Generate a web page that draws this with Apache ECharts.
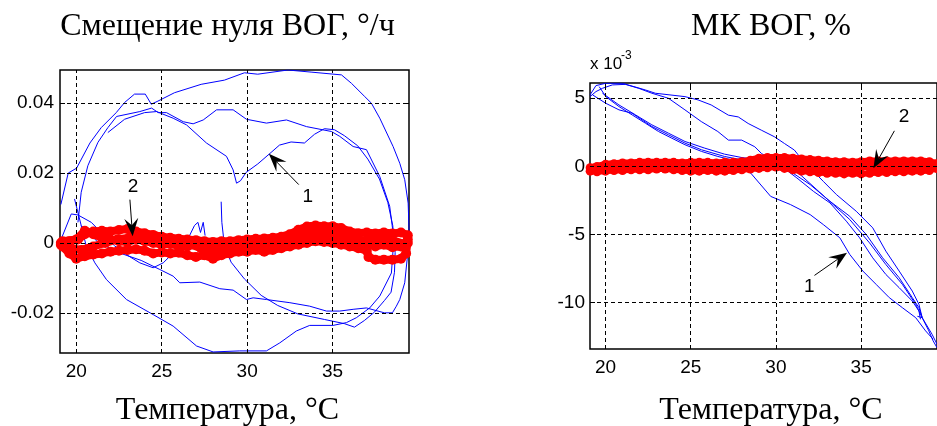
<!DOCTYPE html>
<html><head><meta charset="utf-8">
<script src="https://cdn.jsdelivr.net/npm/echarts@6/dist/echarts.min.js"></script>
<style>html,body{margin:0;padding:0;background:#fff}#c{width:937px;height:426px}</style>
</head><body><div id="c"></div>
<script>
// ---------- tick values ----------
const tempTicks = [20, 25, 30, 35];
const biasTicks = [-0.02, 0, 0.02, 0.04];
const scaleTicks = [-10, -5, 0, 5];

// ---------- left plot: bias (deg/h) vs temperature, uncompensated (blue) ----------
const biasCurveA = [[19.10,0.0110],[19.53,0.0200],[20.02,0.0214],[20.80,0.0286],[21.46,0.0330],[22.34,0.0373],[22.83,0.0402],[23.41,0.0426],[24.04,0.0426],[24.39,0.0397],[24.78,0.0406],[25.75,0.0430],[27.31,0.0454],[28.67,0.0466],[29.84,0.0487],[30.62,0.0483],[32.38,0.0495],[33.74,0.0489],[35.52,0.0481],[36.10,0.0457],[36.88,0.0419],[37.27,0.0400],[37.76,0.0357],[38.54,0.0276],[38.93,0.0228],[39.22,0.0181],[39.42,0.0114],[39.48,0.0029],[39.42,-0.0019],[39.22,-0.0114],[38.93,-0.0162],[38.73,-0.0181],[38.50,-0.0200],[38.03,-0.0200],[36.98,-0.0186],[36.20,-0.0190],[35.42,-0.0195],[34.64,-0.0195],[33.66,-0.0181],[32.50,-0.0171],[31.13,-0.0162],[30.35,-0.0157],[29.96,-0.0162],[29.18,-0.0135],[28.40,-0.0131],[27.23,-0.0112],[26.06,-0.0114],[25.67,-0.0095],[24.89,-0.0076],[23.80,-0.0050],[22.44,-0.0027],[21.27,0.0002],[20.29,0.0050],[19.90,0.0126]];
const biasCurveB = [[20.10,0.0059],[20.29,0.0145],[20.68,0.0221],[21.27,0.0288],[21.85,0.0330],[22.36,0.0362],[23.72,0.0376],[24.41,0.0386],[24.80,0.0373],[25.28,0.0373],[26.26,0.0347],[26.84,0.0341],[27.43,0.0352],[28.21,0.0381],[29.18,0.0381],[29.96,0.0354],[31.13,0.0343],[32.30,0.0352],[33.47,0.0333],[34.93,0.0319],[35.42,0.0305],[36.20,0.0276],[36.98,0.0267],[37.76,0.0190],[38.34,0.0105],[38.54,0.0029],[38.54,-0.0019],[38.44,-0.0086],[37.76,-0.0152],[37.17,-0.0186],[36.39,-0.0214],[35.81,-0.0228],[35.03,-0.0236],[33.66,-0.0236],[32.88,-0.0252],[31.91,-0.0286],[31.13,-0.0309],[29.57,-0.0309],[28.01,-0.0312],[27.04,-0.0295],[25.67,-0.0238],[24.50,-0.0205],[22.94,-0.0162],[21.77,-0.0105],[21.09,-0.0057],[20.58,-0.0008],[20.29,0.0050]];
const biasCurveC = [[21.85,0.0316],[22.83,0.0354],[24.00,0.0373],[24.70,0.0376],[25.67,0.0357],[26.45,0.0338],[27.62,0.0286],[28.79,0.0248],[29.18,0.0209],[29.38,0.0171],[29.61,0.0178],[29.94,0.0202],[30.62,0.0226],[31.40,0.0259],[31.89,0.0280],[32.57,0.0289],[33.35,0.0286],[33.94,0.0311],[34.52,0.0327],[35.11,0.0324],[35.69,0.0307],[36.47,0.0278],[37.06,0.0240],[37.74,0.0183],[38.23,0.0116],[38.52,0.0050],[38.66,-0.0027],[38.62,-0.0084],[38.42,-0.0141],[38.03,-0.0165],[37.45,-0.0198],[36.86,-0.0222],[36.28,-0.0241],[35.69,-0.0231],[34.52,-0.0219],[32.96,-0.0203],[31.79,-0.0179],[30.82,-0.0150],[29.84,-0.0103],[29.06,-0.0055],[28.67,-0.0008],[28.52,0.0059],[28.48,0.0118]];
const biasCurveD = [[19.12,0.0011],[19.71,0.0083],[20.10,0.0080],[20.88,0.0059],[21.46,0.0030],[22.24,-0.0008],[23.02,-0.0036],[23.72,-0.0057],[24.50,-0.0071],[25.09,-0.0057],[25.67,-0.0029],[26.06,0.0000],[26.63,0.0021],[26.92,0.0050],[27.12,0.0059],[27.27,0.0030],[27.43,0.0059],[27.54,0.0021]];

// ---------- left plot: compensated (red) ----------
const biasCompR1 = [[19.1,0],[19.6,0.0005],[20.1,0.001],[20.5,0.0025],[21.0,0.0033],[21.5,0.0035],[22.0,0.0033],[22.5,0.0037],[23.0,0.004],[23.5,0.0033],[24.0,0.0028],[24.5,0.0023],[25.0,0.0018],[25.5,0.0015],[26.0,0.0012],[26.5,0.001],[27.0,0.0008],[27.5,0.0005],[28.0,0.0003],[28.5,0.0005],[29.0,0.0005],[29.5,0.0008],[30.0,0.001],[30.5,0.0012],[31.0,0.0013],[31.5,0.0015],[32.0,0.0018],[32.5,0.0025],[33.0,0.0038],[33.5,0.0047],[34.0,0.005],[34.5,0.0048],[35.0,0.0048],[35.5,0.0043],[36.0,0.0033],[36.5,0.0028],[37.0,0.003],[37.5,0.0027],[38.0,0.003],[38.5,0.0027],[39.0,0.003],[39.4,0.0022]];
const biasCompR2 = [[39.4,0.001],[39.3,-0.003],[39.0,-0.0045],[38.5,-0.0048],[38.0,-0.0048],[37.5,-0.0048],[37.1,-0.004],[37.0,-0.0022],[36.5,-0.0015],[36.0,-0.001],[35.5,-0.0005],[35.0,0],[34.5,0.0003],[34.0,0.0005],[33.5,0],[33.0,-0.0005],[32.5,-0.001],[32.0,-0.0015],[31.5,-0.002],[31.0,-0.0025],[30.5,-0.002],[30.0,-0.0025],[29.5,-0.0025],[29.0,-0.003],[28.5,-0.0035],[28.0,-0.0045],[27.5,-0.0035],[27.0,-0.004],[26.5,-0.0035],[26.0,-0.0028],[25.5,-0.003],[25.0,-0.0027],[24.5,-0.003],[24.0,-0.0022],[23.5,-0.0018],[23.0,-0.002],[22.5,-0.0022],[22.0,-0.0025],[21.5,-0.003],[21.0,-0.0033],[20.5,-0.0038],[20.0,-0.0045],[19.6,-0.003],[19.2,-0.001]];
const biasCompR3 = [[19.2,0.0005],[20.0,0.001],[20.5,0.0035],[21.0,0.0025],[21.5,0.0015],[22.0,0.001],[22.5,0.0005],[23.0,0.0003],[23.5,0.001],[24.0,0.0005],[24.5,0],[25.0,-0.0005],[25.5,-0.0003],[26.0,-0.0008],[26.5,-0.001],[27.0,-0.0005],[27.5,-0.001],[28.0,-0.0008],[28.5,-0.0012],[29.0,-0.0008],[29.5,-0.0005],[30.0,-0.0003],[30.5,0],[31.0,-0.0005],[31.5,0],[32.0,0.0005],[32.5,0.001],[33.0,0.0015],[33.5,0.0025],[34.0,0.003],[34.5,0.0035],[35.0,0.003],[35.5,0.0025],[36.0,0.0015],[36.5,0.001],[37.0,0],[37.5,-0.001],[38.0,-0.0005],[38.5,-0.0012],[39.0,-0.001],[39.4,0]];
const biasCompR4 = [[19.1,-0.0005],[19.7,-0.0015],[20.3,-0.002],[21.0,-0.001],[21.7,0.0],[22.4,0.001],[23.1,0.0015],[23.8,0.0015],[24.5,0.001],[25.2,0.0008],[25.9,0.0002],[26.6,-0.0002],[27.3,-0.0015],[28.0,-0.002],[28.7,-0.0015],[29.4,-0.0012],[30.1,-0.001],[30.8,-0.0008],[31.5,-0.0008],[32.2,-0.0003],[32.9,0.0008],[33.6,0.0015],[34.3,0.0012],[35.0,0.0015],[35.7,0.0012],[36.4,0.0005],[37.1,0.001],[37.8,0.0012],[38.5,0.0008],[39.2,-0.0003]];

// ---------- right plot: scale factor error (x1e-3) vs temperature ----------
const scaleCurveA = [[19.09,5.24],[19.44,5.93],[20.02,6.10],[20.98,6.10],[22.34,5.61],[22.92,5.37],[24.66,5.12],[25.43,4.88],[26.20,4.51],[27.21,3.76],[27.79,3.63],[28.37,3.15],[29.14,2.66],[29.92,2.17],[30.50,1.68],[31.08,1.20],[31.47,0.59],[32.01,-0.12],[32.78,-1.10],[33.55,-2.07],[34.71,-3.29],[35.68,-4.51],[36.45,-6.22],[37.23,-7.68],[38.00,-9.15],[38.39,-10.12],[38.58,-11.10],[38.97,-12.07],[39.22,-12.80],[39.45,-13.30]];
const scaleCurveB = [[19.09,5.12],[19.44,5.49],[19.82,5.73],[20.40,5.98],[21.17,6.02],[21.95,5.73],[22.72,5.37],[23.69,5.00],[24.66,4.15],[25.62,3.29],[26.59,2.56],[27.21,1.93],[27.99,1.93],[28.76,1.44],[29.15,0.95],[29.69,0.49],[30.46,-0.12],[31.23,-0.85],[32.20,-1.83],[33.17,-2.68],[34.13,-4.02],[34.91,-5.24],[35.68,-6.71],[36.45,-7.93],[37.23,-8.90],[38.00,-9.88],[38.39,-10.61],[38.48,-11.22]];
const scaleCurveC = [[19.63,5.85],[20.02,5.12],[20.79,4.39],[21.56,3.78],[22.34,3.17],[23.11,2.56],[23.89,2.07],[24.66,1.59],[25.63,1.10],[26.59,0.73],[27.75,0.37],[28.52,-0.49],[29.69,-2.20],[30.85,-2.80],[32.01,-3.54],[32.78,-4.27],[33.75,-5.24],[34.33,-6.46],[35.10,-7.68],[35.88,-8.66],[36.65,-9.63],[37.42,-10.37],[38.20,-11.10],[38.78,-12.07],[39.22,-12.68]];
const scaleCurveD = [[19.25,5.24],[20.02,4.63],[20.79,4.15],[21.56,3.90],[22.72,2.93],[23.69,2.32],[24.66,1.71],[25.63,1.22],[26.98,0.73],[27.95,0.49],[28.91,0.24],[29.88,0.07],[30.85,-0.37],[32.01,-1.34],[33.17,-2.56],[34.33,-3.66],[35.30,-5.00],[36.26,-6.71],[37.23,-8.17],[38.00,-9.63],[38.39,-10.37],[38.58,-11.10],[38.30,-11.00]];
const scaleCurveE = [[19.82,5.37],[20.79,4.51],[21.76,3.78],[22.72,3.05],[23.69,2.44],[24.66,1.83],[25.82,1.34],[26.98,0.90],[27.95,0.66],[29.30,0.41],[30.46,0.17],[31.43,-0.61],[32.40,-1.71],[33.36,-2.80],[34.33,-3.90],[35.49,-5.61],[36.45,-7.20],[37.42,-8.66],[38.20,-10.12],[38.58,-11.10],[39.16,-12.32],[39.45,-13.05]];
const scaleCompR1 = [[19.1,-0.1],[19.5,0.0],[20.0,0.15],[20.5,0.2],[21.0,0.25],[21.5,0.25],[22.0,0.3],[22.5,0.3],[23.0,0.3],[23.5,0.3],[24.0,0.3],[24.5,0.25],[25.0,0.3],[25.5,0.3],[26.0,0.3],[26.5,0.25],[27.0,0.3],[27.5,0.3],[28.0,0.35],[28.5,0.45],[29.0,0.6],[29.5,0.65],[30.0,0.65],[30.5,0.65],[31.0,0.6],[31.5,0.55],[32.0,0.5],[32.5,0.45],[33.0,0.4],[33.5,0.35],[34.0,0.35],[34.5,0.3],[35.0,0.35],[35.5,0.4],[36.0,0.4],[36.5,0.4],[37.0,0.4],[37.5,0.4],[38.0,0.4],[38.5,0.4],[39.0,0.35],[39.4,0.2]];
const scaleCompR2 = [[19.1,-0.35],[19.5,-0.4],[20.0,-0.35],[20.5,-0.3],[21.0,-0.3],[21.5,-0.25],[22.0,-0.25],[22.5,-0.25],[23.0,-0.2],[23.5,-0.2],[24.0,-0.25],[24.5,-0.3],[25.0,-0.35],[25.5,-0.35],[26.0,-0.3],[26.5,-0.35],[27.0,-0.35],[27.5,-0.3],[28.0,-0.25],[28.5,-0.2],[29.0,-0.15],[29.5,-0.1],[30.0,-0.05],[30.5,-0.15],[31.0,-0.25],[31.5,-0.35],[32.0,-0.4],[32.5,-0.45],[33.0,-0.5],[33.5,-0.5],[34.0,-0.55],[34.5,-0.5],[35.0,-0.55],[35.5,-0.5],[36.0,-0.45],[36.5,-0.45],[37.0,-0.4],[37.5,-0.4],[38.0,-0.35],[38.5,-0.35],[39.0,-0.3],[39.4,-0.15]];
const scaleCompR3 = [[19.3,-0.2],[20.2,-0.1],[21.1,0.0],[22.0,0.05],[22.9,0.05],[23.8,0.0],[24.7,0.0],[25.6,0.0],[26.5,0.0],[27.4,0.0],[28.3,0.1],[29.2,0.25],[30.1,0.3],[31.0,0.2],[31.9,0.05],[32.8,-0.05],[33.7,-0.1],[34.6,-0.1],[35.5,0.0],[36.4,0.0],[37.3,0.05],[38.2,0.05],[39.1,0.0]];

// ---------- annotations: [label, labelX, labelY, fromX, fromY, tipX, tipY] ----------
const leftNotes = [["1",33.55,0.0132,33.02,0.0167,31.27,0.0255],["2",23.32,0.0161,23.14,0.0124,23.30,0.0019]];
const rightNotes = [["1",31.95,-8.83,32.26,-8.0,34.17,-6.33],["2",37.52,3.64,36.95,2.61,35.72,-0.13]];

const titleLeft = "Смещение нуля ВОГ, °/ч";
const titleRight = "МК ВОГ, %";
const axisTitle = "Температура, °C";

const chart = echarts.init(document.getElementById('c'), null, {renderer: 'canvas'});
const SANS = "'Liberation Sans', Arial, sans-serif";
const SERIF = "'Liberation Serif', 'Times New Roman', serif";

function xAxis(gi, min, max, pos, labels) {
  return {type:'value', gridIndex:gi, min:min, max:max, position:pos,
    axisLine:{show:false}, splitLine:{show:false},
    axisTick:{show:true, inside:true, length:5, customValues:tempTicks, lineStyle:{color:'#000', width:1}},
    axisLabel:{show:labels, customValues:tempTicks, color:'#000', fontFamily:SANS, fontSize:19, margin:9}};
}
function yAxis(gi, min, max, pos, labels, ticks, margin) {
  return {type:'value', gridIndex:gi, min:min, max:max, position:pos,
    axisLine:{show:false}, splitLine:{show:false},
    axisTick:{show:true, inside:true, length:5, customValues:ticks, lineStyle:{color:'#000', width:1}},
    axisLabel:{show:labels, customValues:ticks, color:'#000', fontFamily:SANS, fontSize:19, margin:margin}};
}
const dash = {color:'#000', type:[4,3], width:1};
function gridLines(xi, yi, xs, ys) {
  return {type:'line', xAxisIndex:xi, yAxisIndex:yi, data:[], z:1, silent:true,
    markLine:{silent:true, symbol:['none','none'], label:{show:false}, animation:false,
      lineStyle:dash, emphasis:{disabled:true},
      data: xs.map(v=>({xAxis:v})).concat(ys.map(v=>({yAxis:v})))}};
}
function blue(xi, yi, d) {
  return {type:'line', xAxisIndex:xi, yAxisIndex:yi, data:d, showSymbol:false, symbol:'none',
    lineStyle:{color:'#0000ff', width:1}, z:3, silent:true, clip:true};
}
function red(xi, yi, d, size, lw) {
  return {type:'line', xAxisIndex:xi, yAxisIndex:yi, data:d, symbol:'circle', symbolSize:size, showSymbol:true,
    itemStyle:{color:'#ff0000'}, lineStyle:{color:'#ff0000', width:lw}, z:4, silent:true, clip:true};
}

const L = {xmin:19.05, xmax:39.47, ymin:-0.0315, ymax:0.0495};
const R = {xmin:19.09, xmax:39.45, ymin:-13.4, ymax:6.12};

chart.setOption({
  animation:false,
  backgroundColor:'#fff',
  grid:[
    {left:60, top:70, width:349, height:283, show:true, borderColor:'#000', borderWidth:1.5, backgroundColor:'transparent'},
    {left:590, top:83, width:351, height:266, show:true, borderColor:'#000', borderWidth:1.5, backgroundColor:'transparent'}
  ],
  xAxis:[
    xAxis(0, L.xmin, L.xmax, 'bottom', true),
    xAxis(1, R.xmin, R.xmax, 'bottom', true),
    xAxis(0, L.xmin, L.xmax, 'top', false),
    xAxis(1, R.xmin, R.xmax, 'top', false)
  ],
  yAxis:[
    yAxis(0, L.ymin, L.ymax, 'left', true, biasTicks, 6),
    yAxis(1, R.ymin, R.ymax, 'left', true, scaleTicks, 5),
    yAxis(0, L.ymin, L.ymax, 'right', false, biasTicks, 6)
  ],
  series:[
    gridLines(0, 0, tempTicks, biasTicks),
    gridLines(1, 1, tempTicks, scaleTicks),
    blue(0,0,biasCurveA), blue(0,0,biasCurveB), blue(0,0,biasCurveC), blue(0,0,biasCurveD),
    red(0,0,biasCompR1,10,8), red(0,0,biasCompR2,10,8), red(0,0,biasCompR3,10,8), red(0,0,biasCompR4,10,8),
    blue(1,1,scaleCurveA), blue(1,1,scaleCurveB), blue(1,1,scaleCurveC), blue(1,1,scaleCurveD), blue(1,1,scaleCurveE),
    red(1,1,scaleCompR1,9,7), red(1,1,scaleCompR2,9,6), red(1,1,scaleCompR3,9,7)
  ]
});

// annotations drawn through the chart's own coordinate conversion
const gfx = [];
function addNotes(notes, gi) {
  notes.forEach(n => {
    const lp = chart.convertToPixel({gridIndex:gi}, [n[1], n[2]]);
    const p0 = chart.convertToPixel({gridIndex:gi}, [n[3], n[4]]);
    const p1 = chart.convertToPixel({gridIndex:gi}, [n[5], n[6]]);
    const dx = p1[0]-p0[0], dy = p1[1]-p0[1], len = Math.hypot(dx, dy);
    const ux = dx/len, uy = dy/len, nx = -uy, ny = ux;
    const HL = 18, HW = 7;
    const bx = p1[0]-ux*HL, by = p1[1]-uy*HL;
    const mx = p1[0]-ux*HL*0.62, my = p1[1]-uy*HL*0.62;
    gfx.push({type:'line', shape:{x1:p0[0], y1:p0[1], x2:mx, y2:my}, style:{stroke:'#000', lineWidth:1}, z:100});
    gfx.push({type:'polygon', shape:{points:[[p1[0],p1[1]],[bx+nx*HW,by+ny*HW],[mx,my],[bx-nx*HW,by-ny*HW]]}, style:{fill:'#000'}, z:100});
    gfx.push({type:'text', x:lp[0], y:lp[1], style:{text:n[0], font:"19px "+SANS, fill:'#000', textAlign:'center', textVerticalAlign:'middle'}, z:100});
  });
}
addNotes(leftNotes, 0);
addNotes(rightNotes, 1);
gfx.push({type:'text', x:227.5, y:26.5, style:{text:titleLeft, font:"32px "+SERIF, fill:'#000', textAlign:'center', textVerticalAlign:'middle'}});
gfx.push({type:'text', x:771, y:26.5, style:{text:titleRight, font:"32px "+SERIF, fill:'#000', textAlign:'center', textVerticalAlign:'middle'}});
gfx.push({type:'text', x:227.5, y:411, style:{text:axisTitle, font:"32px "+SERIF, fill:'#000', textAlign:'center', textVerticalAlign:'middle'}});
gfx.push({type:'text', x:771, y:411, style:{text:axisTitle, font:"32px "+SERIF, fill:'#000', textAlign:'center', textVerticalAlign:'middle'}});
gfx.push({type:'text', x:590, y:64, style:{text:"x 10", font:"17px "+SANS, fill:'#000', textAlign:'left', textVerticalAlign:'middle'}});
gfx.push({type:'text', x:621, y:56, style:{text:"-3", font:"12px "+SANS, fill:'#000', textAlign:'left', textVerticalAlign:'middle'}});
chart.setOption({graphic:{elements:gfx}});
</script>
</body></html>
